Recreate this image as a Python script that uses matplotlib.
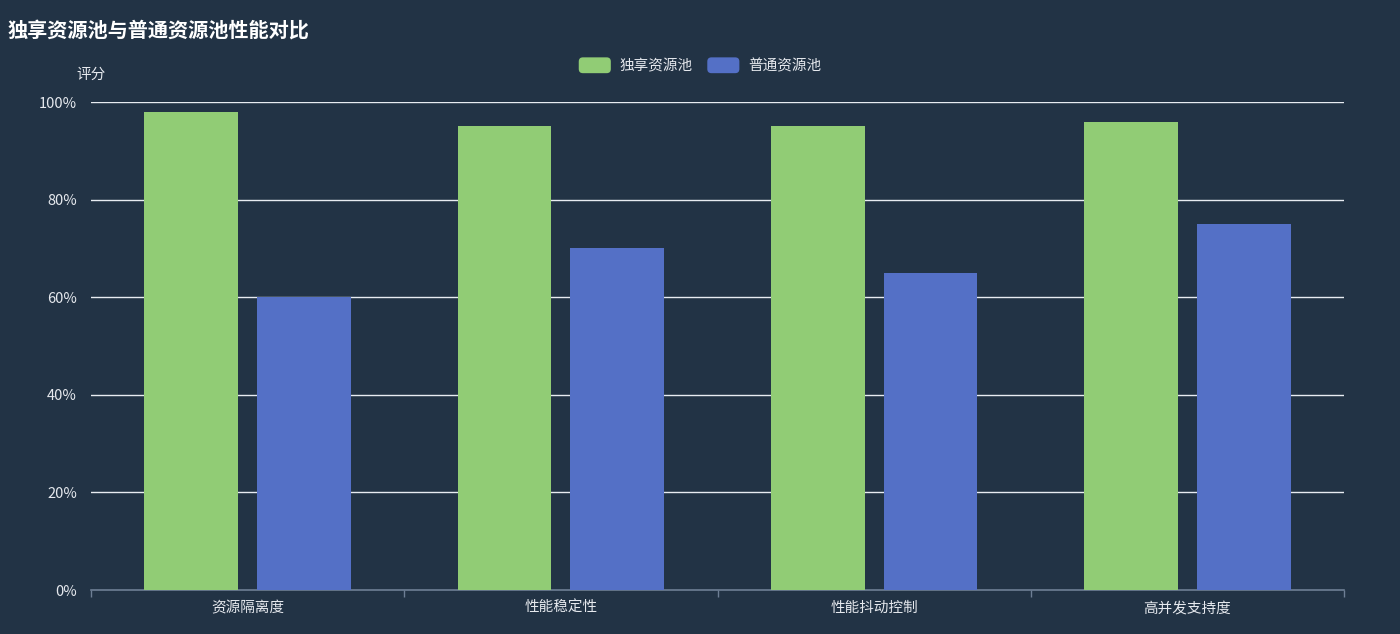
import matplotlib
matplotlib.use("Agg")
import matplotlib.pyplot as plt
from matplotlib.patches import FancyBboxPatch, Patch
from matplotlib.legend_handler import HandlerPatch
import numpy as np

plt.rcParams['font.family'] = ['Noto Sans CJK SC', 'DejaVu Sans']

categories = ["资源隔离度", "性能稳定性", "性能抖动控制", "高并发支持度"]
series_names = ["独享资源池", "普通资源池"]
exclusive_vals = [98, 95, 95, 96]
shared_vals = [60, 70, 65, 75]
y_ticks = [0, 20, 40, 60, 80, 100]
y_tick_labels = ["0%", "20%", "40%", "60%", "80%", "100%"]

BG = "#223345"
GREEN = "#91cc75"
BLUE = "#5470c6"
TXT = "#e6e9ee"

fig = plt.figure(figsize=(14, 6.34), dpi=100, facecolor=BG)
ax = fig.add_axes([91/1400, 44/634, (1344-91)/1400, (590-102)/634])
ax.set_facecolor(BG)

x = np.arange(len(categories))
off = 0.18
w = 0.30
ax.bar(x - off, exclusive_vals, width=w, color=GREEN, zorder=3, label=series_names[0])
ax.bar(x + off, shared_vals, width=w, color=BLUE, zorder=3, label=series_names[1])

ax.set_xlim(-0.5, len(categories) - 0.5)
ax.set_ylim(0, 100)
ax.set_yticks(y_ticks)
ax.set_yticklabels(y_tick_labels, color=TXT, fontsize=10.5)
ax.tick_params(axis='y', length=0, pad=10)
for yv in y_ticks[1:]:
    ax.axhline(yv, color="#e8ecf2", lw=1.0, zorder=1)

ax.set_xticks(x)
ax.set_xticklabels(categories, color=TXT, fontsize=10.5)
ax.tick_params(axis='x', which='major', length=0, pad=8)
ax.set_xticks(np.arange(len(categories) + 1) - 0.5, minor=True)
ax.tick_params(axis='x', which='minor', length=5, color="#6e7f95", width=1)

for s in ["top", "right", "left"]:
    ax.spines[s].set_visible(False)
ax.spines["bottom"].set_color("#6e7f95")
ax.spines["bottom"].set_linewidth(1.2)

fig.text(8/1400, 1 - 30/634, "独享资源池与普通资源池性能对比", color="white",
         fontsize=14.5, fontweight="bold", va="center", ha="left")
fig.text(91/1400, 1 - 75/634, "评分", color=TXT, fontsize=10.5, va="center", ha="center")


class RoundHandler(HandlerPatch):
    def create_artists(self, legend, orig_handle, xdescent, ydescent, width, height, fontsize, trans):
        p = FancyBboxPatch((-xdescent, -ydescent - 1), width, height + 2,
                           boxstyle="round,pad=0,rounding_size=3",
                           facecolor=orig_handle.get_facecolor(), edgecolor="none",
                           transform=trans)
        return [p]


handles = [Patch(facecolor=GREEN), Patch(facecolor=BLUE)]
leg = fig.legend(handles, series_names, loc="center", bbox_to_anchor=(700/1400, 1 - 66/634),
                 ncol=2, frameon=False, fontsize=10.5, labelcolor=TXT,
                 handlelength=2.2, handleheight=1.0, handletextpad=0.6, columnspacing=1.0,
                 handler_map={Patch: RoundHandler()})

fig.savefig("out.png", dpi=100, facecolor=BG)
